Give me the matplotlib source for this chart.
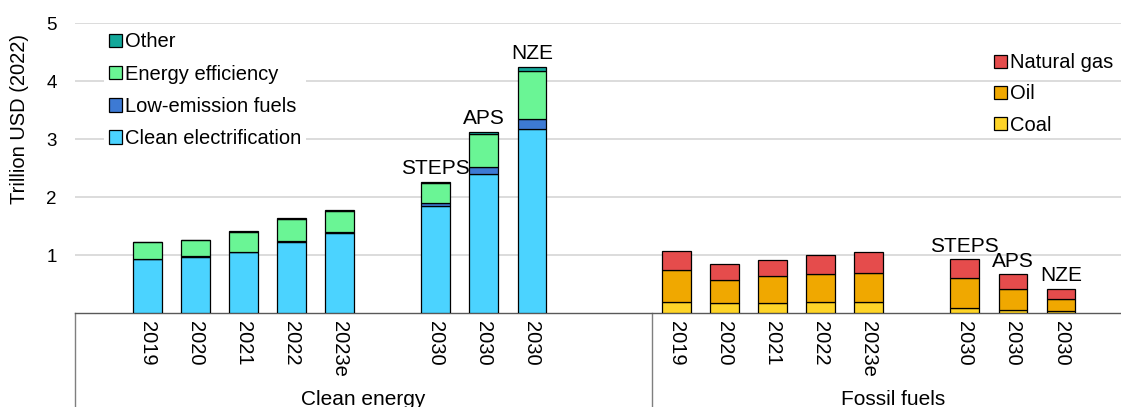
import matplotlib
matplotlib.use("Agg")
import matplotlib.pyplot as plt
import matplotlib.transforms as mtransforms
import numpy as np

plt.rcParams['font.family'] = ['Liberation Sans', 'DejaVu Sans']

# ---------------- data ----------------
period_labels = ['2019', '2020', '2021', '2022', '2023e', '2030', '2030', '2030']
scenario_labels = ['STEPS', 'APS', 'NZE']
group_labels = ['Clean energy', 'Fossil fuels']

clean_electrification = [0.927, 0.973, 1.048, 1.226, 1.382, 1.853, 2.400, 3.170]
low_emission_fuels    = [0.012, 0.012, 0.012, 0.015, 0.015, 0.040, 0.115, 0.180]
energy_efficiency     = [0.287, 0.270, 0.344, 0.382, 0.365, 0.346, 0.570, 0.820]
other                 = [0.008, 0.008, 0.010, 0.012, 0.012, 0.022, 0.035, 0.070]

coal        = [0.184, 0.167, 0.173, 0.184, 0.184, 0.090, 0.058, 0.040]
oil         = [0.552, 0.403, 0.459, 0.486, 0.514, 0.514, 0.357, 0.200]
natural_gas = [0.334, 0.276, 0.289, 0.338, 0.355, 0.326, 0.255, 0.175]

# ---------------- style ----------------
C_CE = '#4BD3FF'
C_LEF = '#3D7AD4'
C_EE = '#6AF595'
C_OTH = '#13A89A'
C_NG = '#E54C4C'
C_OIL = '#F0A800'
C_COAL = '#FED428'

W, H = 1121, 407
fig = plt.figure(figsize=(W / 100, H / 100), dpi=100)
slot_px = 48.1
ax_left_px, ax_bottom_px, ax_top_px = 75, 313, 23.3
n_slots = 22  # -1.5 .. 20.5
ax = fig.add_axes([ax_left_px / W, (H - ax_bottom_px) / H,
                   n_slots * slot_px / W, (ax_bottom_px - ax_top_px) / H])

# slot layout
clean_x = np.array([0, 1, 2, 3, 4, 6, 7, 8], dtype=float)
fossil_x = clean_x + 11
bw = 0.6
ekw = dict(edgecolor='black', linewidth=0.9, zorder=3)

ce = np.array(clean_electrification)
lef = np.array(low_emission_fuels)
ee = np.array(energy_efficiency)
oth = np.array(other)
b1 = ax.bar(clean_x, ce, bw, color=C_CE, label='Clean electrification', **ekw)
b2 = ax.bar(clean_x, lef, bw, bottom=ce, color=C_LEF, label='Low-emission fuels', **ekw)
b3 = ax.bar(clean_x, ee, bw, bottom=ce + lef, color=C_EE, label='Energy efficiency', **ekw)
b4 = ax.bar(clean_x, oth, bw, bottom=ce + lef + ee, color=C_OTH, label='Other', **ekw)
clean_tot = ce + lef + ee + oth

co = np.array(coal)
oi = np.array(oil)
ng = np.array(natural_gas)
f1 = ax.bar(fossil_x, co, bw, color=C_COAL, label='Coal', **ekw)
f2 = ax.bar(fossil_x, oi, bw, bottom=co, color=C_OIL, label='Oil', **ekw)
f3 = ax.bar(fossil_x, ng, bw, bottom=co + oi, color=C_NG, label='Natural gas', **ekw)
fossil_tot = co + oi + ng

# scenario labels
for i, s in enumerate(scenario_labels):
    k = 5 + i
    ax.text(clean_x[k], clean_tot[k] + 0.14, s, ha='center', va='baseline', fontsize=15, zorder=5)
    ax.text(fossil_x[k], fossil_tot[k] + 0.13, s, ha='center', va='baseline', fontsize=15, zorder=5)

ax.set_xlim(-1.5, 20.5)
ax.set_ylim(0, 5)
ax.set_yticks([1, 2, 3, 4, 5])
ax.tick_params(axis='y', length=0, pad=13, labelsize=13.5)
ax.grid(axis='y', color='#d9d9d9', linewidth=1.3, zorder=0)
ax.set_axisbelow(True)
for sp in ['left', 'right', 'top']:
    ax.spines[sp].set_visible(False)
ax.spines['bottom'].set_color('#595959')
ax.spines['bottom'].set_linewidth(1.0)

xt = np.concatenate([clean_x, fossil_x])
ax.set_xticks(xt)
ax.set_xticklabels(period_labels + period_labels, rotation=-90, fontsize=14.5)
ax.tick_params(axis='x', length=0, pad=6)

# group separators and labels
trans = mtransforms.blended_transform_factory(ax.transData, ax.transAxes)
for xs in [-1.5, 10.5, 20.5]:
    ax.plot([xs, xs], [0, -0.4], transform=trans, color='#7f7f7f', lw=1.0, clip_on=False)
ax.text(4.5, -(405 - ax_bottom_px) / (ax_bottom_px - ax_top_px), group_labels[0],
        transform=trans, ha='center', va='baseline', fontsize=15)
ax.text(15.5, -(405 - ax_bottom_px) / (ax_bottom_px - ax_top_px), group_labels[1],
        transform=trans, ha='center', va='baseline', fontsize=15)

fig.text(20 / W, 1 - 118.5 / H, 'Trillion USD (2022)', rotation=90,
         ha='center', va='center', fontsize=14.5)

# legends
leg1 = ax.legend(handles=[b4, b3, b2, b1], loc='upper left',
                 bbox_to_anchor=((100 - ax_left_px) / (n_slots * slot_px), 1.0),
                 fontsize=14.5, frameon=True, facecolor='white', edgecolor='none',
                 framealpha=1, fancybox=False, handlelength=0.65, handleheight=0.65,
                 handletextpad=0.15, labelspacing=0.66, borderpad=0.25, borderaxespad=0.2)
leg1.set_zorder(4)
ax.add_artist(leg1)
leg2 = ax.legend(handles=[f3, f2, f1], loc='upper left',
                 bbox_to_anchor=((990 - ax_left_px) / (n_slots * slot_px), 0.91),
                 fontsize=14.5, frameon=False, handlelength=0.65, handleheight=0.65,
                 handletextpad=0.15, labelspacing=0.6, borderpad=0.2, borderaxespad=0.0)

fig.savefig('out.png', dpi=100)
